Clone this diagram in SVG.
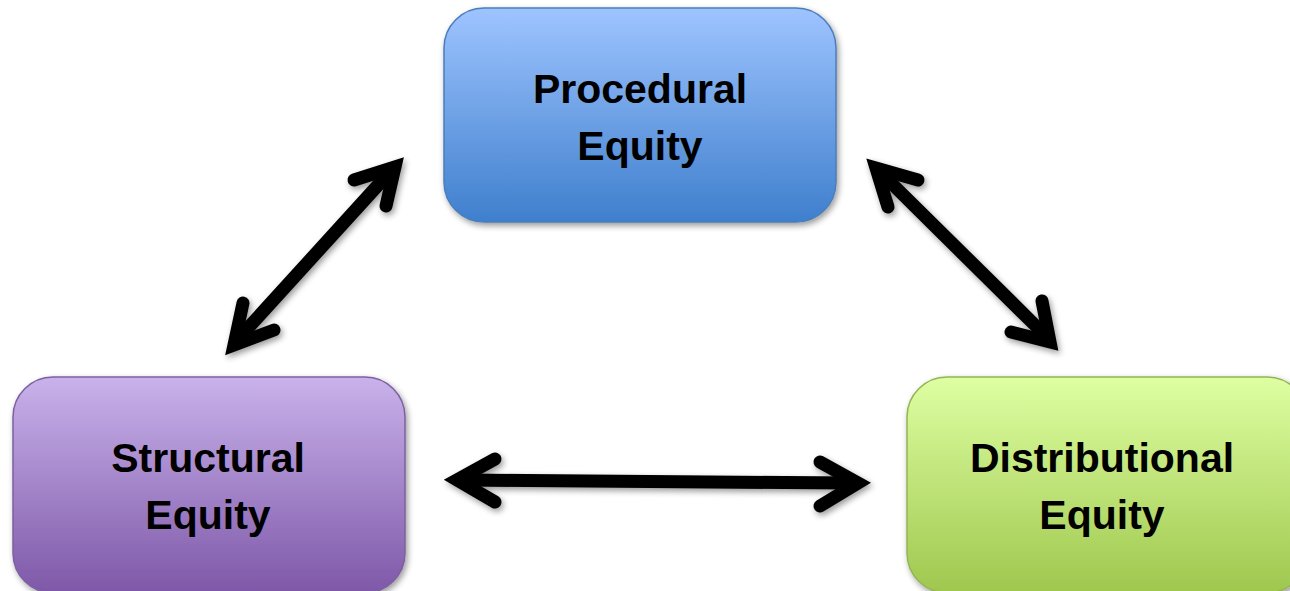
<svg xmlns="http://www.w3.org/2000/svg" width="1290" height="591" viewBox="0 0 1290 591">
<style>
.lbl{font-family:"Liberation Sans",Arial,sans-serif;font-weight:bold;font-size:41px;fill:#000;text-anchor:middle}
.box{stroke-width:1.5}
.arr{fill:none;stroke:#000;stroke-width:13;stroke-linecap:round;stroke-linejoin:miter;stroke-miterlimit:10}
</style>
<defs>
<linearGradient id="gB" x1="0" y1="0" x2="0" y2="1"><stop offset="0" stop-color="#9ec4ff"/><stop offset="1" stop-color="#3f7fcd"/></linearGradient>
<linearGradient id="gP" x1="0" y1="0" x2="0" y2="1"><stop offset="0" stop-color="#c9b2eb"/><stop offset="1" stop-color="#7e58a8"/></linearGradient>
<linearGradient id="gG" x1="0" y1="0" x2="0" y2="1"><stop offset="0" stop-color="#deffa2"/><stop offset="1" stop-color="#9fc74e"/></linearGradient>
<filter id="sh" x="-10%" y="-10%" width="130%" height="130%"><feGaussianBlur in="SourceAlpha" stdDeviation="3"/><feOffset dx="2" dy="3"/><feComponentTransfer><feFuncA type="linear" slope="0.4"/></feComponentTransfer><feMerge><feMergeNode/><feMergeNode in="SourceGraphic"/></feMerge></filter>
</defs>
<rect width="1290" height="591" fill="#fff"/>
<g id="procedural">
<rect class="box" x="444" y="8" width="392" height="214" rx="40" fill="url(#gB)" stroke="#4a7ebb" filter="url(#sh)"/>
<text class="lbl" x="640" y="103">Procedural</text>
<text class="lbl" x="640" y="160">Equity</text>
</g>
<g id="structural">
<rect class="box" x="13" y="377" width="392" height="216" rx="40" fill="url(#gP)" stroke="#7d60a0" filter="url(#sh)"/>
<text class="lbl" x="208" y="472">Structural</text>
<text class="lbl" x="208" y="529">Equity</text>
</g>
<g id="distributional">
<rect class="box" x="907" y="377" width="400" height="216" rx="40" fill="url(#gG)" stroke="#94b456" filter="url(#sh)"/>
<text class="lbl" x="1102" y="472">Distributional</text>
<text class="lbl" x="1102" y="529">Equity</text>
</g>
<g id="connectors" filter="url(#sh)">
<line class="arr" x1="238" y1="339" x2="390" y2="172"/>
<polyline class="arr" points="354,180 395,167 386,206"/>
<polyline class="arr" points="243,303 234,345 274,330"/>
<line class="arr" x1="880" y1="172" x2="1046" y2="336"/>
<polyline class="arr" points="918,180 876,168 888,207"/>
<polyline class="arr" points="1042,301 1050,342 1011,332"/>
<line class="arr" x1="462" y1="480" x2="852" y2="483"/>
<polyline class="arr" points="495,459 457,480 495,502"/>
<polyline class="arr" points="820,462 858,483 820,506"/>
</g>
</svg>
